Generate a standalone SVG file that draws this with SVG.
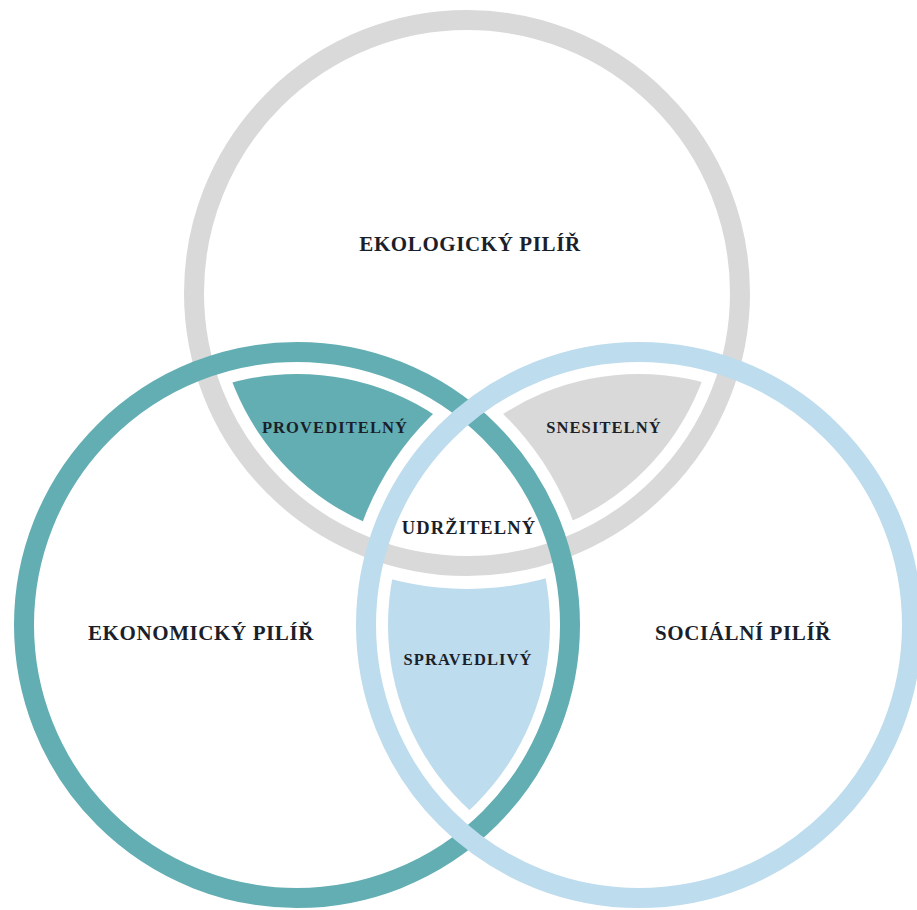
<svg xmlns="http://www.w3.org/2000/svg" width="917" height="910" viewBox="0 0 917 910">
<style>
.ring{fill:none;stroke-width:20}
.lbl{font-family:"Liberation Serif","Times New Roman",serif;font-weight:bold;fill:#1b1f2a;text-anchor:middle}
.big{font-size:21px;letter-spacing:0.6px}
.small{font-size:16.5px;letter-spacing:1.1px}
.mid{font-size:18.5px;letter-spacing:1.1px}
</style>
<defs>
<clipPath id="inG"><circle cx="467" cy="293" r="251"/></clipPath>
<clipPath id="inT"><circle cx="297" cy="625" r="251"/></clipPath>
<clipPath id="inL"><circle cx="639" cy="625" r="251"/></clipPath>
<mask id="exG" maskUnits="userSpaceOnUse" x="0" y="0" width="917" height="910"><rect width="917" height="910" fill="#fff"/><circle cx="467" cy="293" r="296" fill="#000"/></mask>
<mask id="exT" maskUnits="userSpaceOnUse" x="0" y="0" width="917" height="910"><rect width="917" height="910" fill="#fff"/><circle cx="297" cy="625" r="295" fill="#000"/></mask>
<mask id="exL" maskUnits="userSpaceOnUse" x="0" y="0" width="917" height="910"><rect width="917" height="910" fill="#fff"/><circle cx="639" cy="625" r="295" fill="#000"/></mask>
</defs>
<rect width="917" height="910" fill="#fff"/>
<g id="regions">
<g id="proveditelny" clip-path="url(#inT)"><circle cx="467" cy="293" r="251" fill="#62aeb3" mask="url(#exL)"/></g>
<g id="snesitelny" clip-path="url(#inL)"><circle cx="467" cy="293" r="251" fill="#d9d9d9" mask="url(#exT)"/></g>
<g id="spravedlivy" clip-path="url(#inL)"><circle cx="297" cy="625" r="253" fill="#bddcee" mask="url(#exG)"/></g>
</g>
<g id="rings">
<circle id="ekologicky" class="ring" cx="467" cy="293" r="273" stroke="#d9d9d9"/>
<circle id="ekonomicky" class="ring" cx="297" cy="625" r="273" stroke="#62aeb3"/>
<circle id="socialni" class="ring" cx="639" cy="625" r="273" stroke="#bddcee"/>
</g>
<g id="labels">
<text class="lbl big" x="470" y="251">EKOLOGICKÝ PILÍŘ</text>
<text class="lbl big" x="201" y="640">EKONOMICKÝ PILÍŘ</text>
<text class="lbl big" x="743" y="640">SOCIÁLNÍ PILÍŘ</text>
<text class="lbl small" x="335" y="433">PROVEDITELNÝ</text>
<text class="lbl small" x="604" y="433">SNESITELNÝ</text>
<text class="lbl mid" x="469" y="534">UDRŽITELNÝ</text>
<text class="lbl small" x="468" y="665">SPRAVEDLIVÝ</text>
</g>
</svg>
